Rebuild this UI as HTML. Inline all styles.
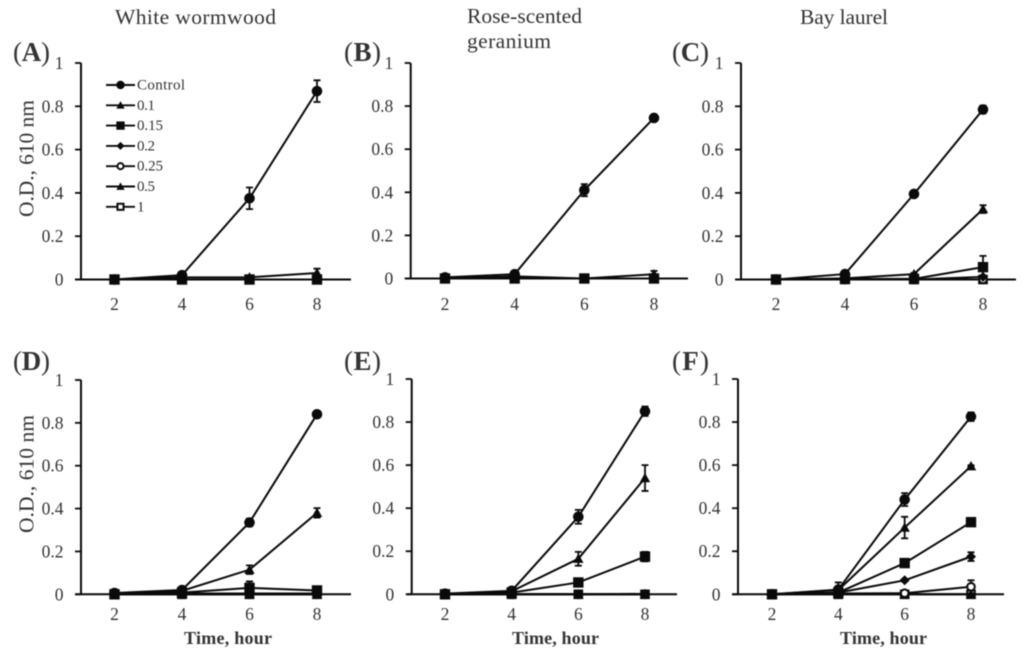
<!DOCTYPE html>
<html lang="en">
<head>
<meta charset="utf-8">
<title>Bacterial growth curves</title>
<style>
html,body{margin:0;padding:0;background:#fff;width:1024px;height:653px;overflow:hidden}
svg{display:block;filter:blur(0.4px)}
text{font-family:"Liberation Serif",serif;fill:#333}
</style>
</head>
<body>
<svg id="chart" xmlns="http://www.w3.org/2000/svg" width="1024" height="653" viewBox="0 0 1024 653">
  <text x="115" y="24" font-size="21.5" textLength="161">White wormwood</text>
  <text x="467" y="23" font-size="21.5" textLength="115">Rose-scented</text>
  <text x="467" y="48" font-size="21.5" textLength="84">geranium</text>
  <text x="800" y="24" font-size="21.5" textLength="88">Bay laurel</text>
  <text transform="translate(33.5,217) rotate(-90)" font-size="21.5" textLength="117">O.D., 610 nm</text>
  <text transform="translate(33.5,533) rotate(-90)" font-size="21.5" textLength="118">O.D., 610 nm</text>
  <text x="184" y="644" font-size="18" font-weight="bold" textLength="88">Time, hour</text>
  <text x="512" y="644" font-size="18" font-weight="bold" textLength="87">Time, hour</text>
  <text x="840" y="644" font-size="18" font-weight="bold" textLength="87">Time, hour</text>
</svg>
<script>
const categories = [2, 4, 6, 8];
const yTickValues = [0, 0.2, 0.4, 0.6, 0.8, 1];
const yTickLabels = ['0', '0.2', '0.4', '0.6', '0.8', '1'];
const seriesNames = ['Control', '0.1', '0.15', '0.2', '0.25', '0.5', '1'];
const seriesMarkers = ['circle', 'triangle', 'square', 'diamond', 'open-circle', 'triangle', 'open-square'];

const aControl = [0, 0.02, 0.375, 0.87];
const aDose01 = [0, 0.01, 0.01, 0.03];
const aDose015 = [0, 0, 0, 0];
const aDose02 = [0, 0, 0, 0];
const aDose025 = [0, 0, 0, 0];
const aDose05 = [0, 0, 0, 0];
const aDose1 = [0, 0, 0, 0];
const aControlErr = [0, 0.005, 0.05, 0.05];
const aDose01Err = [0, 0, 0.005, 0.02];

const bControl = [0.005, 0.02, 0.41, 0.745];
const bDose01 = [0, 0.01, 0, 0.02];
const bDose015 = [0, 0, 0, 0];
const bDose02 = [0, 0, 0, 0];
const bDose025 = [0, 0, 0, 0];
const bDose05 = [0, 0, 0, 0];
const bDose1 = [0, 0, 0, 0];
const bControlErr = [0, 0.005, 0.028, 0.005];
const bDose01Err = [0, 0, 0, 0.015];

const cControl = [0, 0.025, 0.395, 0.785];
const cDose01 = [0, 0.005, 0.025, 0.325];
const cDose015 = [0, 0.003, 0.003, 0.057];
const cDose02 = [0, 0, 0, 0.012];
const cDose025 = [0, 0, 0, 0];
const cDose05 = [0, 0, 0, 0];
const cDose1 = [0, 0, 0, 0];
const cControlErr = [0, 0.004, 0.008, 0.018];
const cDose01Err = [0, 0, 0.005, 0.018];
const cDose015Err = [0, 0, 0, 0.052];

const dControl = [0.006, 0.02, 0.335, 0.84];
const dDose01 = [0.004, 0.016, 0.115, 0.38];
const dDose015 = [0, 0.008, 0.03, 0.018];
const dDose02 = [0, 0.004, 0.004, 0.004];
const dDose025 = [0, 0, 0, 0];
const dDose05 = [0, 0, 0, 0];
const dDose1 = [0, 0, 0, 0];
const dControlErr = [0, 0.005, 0.018, 0.008];
const dDose01Err = [0, 0, 0.02, 0.022];
const dDose015Err = [0, 0, 0.03, 0.004];

const eControl = [0.003, 0.016, 0.36, 0.85];
const eDose01 = [0, 0.014, 0.165, 0.54];
const eDose015 = [0, 0.008, 0.055, 0.175];
const eDose02 = [0, 0, 0, 0.002];
const eDose025 = [0, 0, 0, 0];
const eDose05 = [0, 0, 0, 0];
const eDose1 = [0, 0, 0, 0];
const eControlErr = [0, 0.004, 0.032, 0.022];
const eDose01Err = [0, 0, 0.032, 0.06];
const eDose015Err = [0, 0, 0.004, 0.022];

const fControl = [0, 0.022, 0.44, 0.825];
const fDose01 = [0, 0.02, 0.31, 0.595];
const fDose015 = [0, 0.008, 0.145, 0.335];
const fDose02 = [0, 0.008, 0.065, 0.175];
const fDose025 = [0, 0.004, 0.005, 0.035];
const fDose05 = [0, 0, 0, 0];
const fDose1 = [0, 0, 0, 0];
const fControlErr = [0, 0.01, 0.03, 0.02];
const fDose01Err = [0, 0.035, 0.05, 0.004];
const fDose02Err = [0, 0, 0.005, 0.02];
const fDose025Err = [0, 0, 0.003, 0.03];

const none = [0, 0, 0, 0];

const panels = [
  {id:'a', tag:'A', lx:13, ly:61, ax:81, top:63, bot:279.5, x2:114.5, x8:317, l:75, r:351, tickY:310,
   values:[aControl,aDose01,aDose015,aDose02,aDose025,aDose05,aDose1], errs:[aControlErr,aDose01Err,none,none,none,none,none]},
  {id:'b', tag:'B', lx:344, ly:61, ax:410.7, top:63, bot:278.5, x2:445, x8:654, l:405, r:688, tickY:310,
   values:[bControl,bDose01,bDose015,bDose02,bDose025,bDose05,bDose1], errs:[bControlErr,bDose01Err,none,none,none,none,none]},
  {id:'c', tag:'C', lx:672, ly:61, ax:741, top:63, bot:279.5, x2:776, x8:983, l:736, r:1016, tickY:310,
   values:[cControl,cDose01,cDose015,cDose02,cDose025,cDose05,cDose1], errs:[cControlErr,cDose01Err,cDose015Err,none,none,none,none]},
  {id:'d', tag:'D', lx:13, ly:370, ax:81, top:380, bot:594.3, x2:114.5, x8:317, l:75, r:351, tickY:620,
   values:[dControl,dDose01,dDose015,dDose02,dDose025,dDose05,dDose1], errs:[dControlErr,dDose01Err,dDose015Err,none,none,none,none]},
  {id:'e', tag:'E', lx:344, ly:370, ax:411.7, top:379, bot:594.3, x2:445, x8:645, l:407, r:677, tickY:620,
   values:[eControl,eDose01,eDose015,eDose02,eDose025,eDose05,eDose1], errs:[eControlErr,eDose01Err,eDose015Err,none,none,none,none]},
  {id:'f', tag:'F', lx:672, ly:370, ax:738, top:379, bot:594.3, x2:772, x8:971, l:732, r:1004, tickY:620,
   values:[fControl,fDose01,fDose015,fDose02,fDose025,fDose05,fDose1], errs:[fControlErr,fDose01Err,none,fDose02Err,fDose025Err,none,none]}
];

const NS = 'http://www.w3.org/2000/svg';
const svg = document.getElementById('chart');
const INK = '#0a0a0a';

function make(parent, tag, props) {
  const el = document.createElementNS(NS, tag);
  for (const k in props) el.setAttribute(k, props[k]);
  parent.appendChild(el);
  return el;
}
function xScale(p, cat) {
  return p.x2 + (cat - categories[0]) / (categories[3] - categories[0]) * (p.x8 - p.x2);
}
function yScale(p, val) {
  return p.bot - val * (p.bot - p.top);
}
function drawMarker(parent, kind, x, y, k) {
  let el;
  if (kind === 'circle') {
    el = make(parent, 'circle', {cx:x, cy:y, r:5.3*k, fill:INK});
  } else if (kind === 'open-circle') {
    el = make(parent, 'circle', {cx:x, cy:y, r:3.8*k, fill:'#fff', stroke:INK, 'stroke-width':2});
  } else if (kind === 'square') {
    el = make(parent, 'rect', {x:x-5.2*k, y:y-5.2*k, width:10.4*k, height:10.4*k, fill:INK});
  } else if (kind === 'open-square') {
    el = make(parent, 'rect', {x:x-3.8*k, y:y-3.8*k, width:7.6*k, height:7.6*k, fill:'#fff', stroke:INK, 'stroke-width':2});
  } else if (kind === 'triangle') {
    const s = 5.2 * k;
    el = make(parent, 'polygon', {points:(x-s)+','+(y+s*0.8)+' '+(x+s)+','+(y+s*0.8)+' '+x+','+(y-s), fill:INK});
  } else {
    const s = 5 * k;
    el = make(parent, 'polygon', {points:(x-s)+','+y+' '+x+','+(y-s)+' '+(x+s)+','+y+' '+x+','+(y+s), fill:INK});
  }
  
  
}

panels.forEach(function (p) {
  const g = make(svg, 'g', {});
  
  

  const label = make(g, 'text', {x:p.lx, y:p.ly, 'font-size':27, textLength:37});
  
  
  const open = document.createElementNS(NS, 'tspan');
  open.textContent = '(';
  label.appendChild(open);
  const letter = document.createElementNS(NS, 'tspan');
  letter.setAttribute('font-weight', 'bold');
  letter.textContent = p.tag;
  label.appendChild(letter);
  const close = document.createElementNS(NS, 'tspan');
  close.textContent = ')';
  label.appendChild(close);

  const yAxis = make(g, 'line', {x1:p.ax, x2:p.ax, y1:p.top, y2:p.bot, stroke:INK, 'stroke-width':2});
  
  
  const xAxis = make(g, 'line', {x1:p.l, x2:p.r, y1:p.bot, y2:p.bot, stroke:INK, 'stroke-width':2});
  
  

  yTickValues.forEach(function (v, i) {
    const y = yScale(p, v);
    const tick = make(g, 'line', {x1:p.ax-6, x2:p.ax, y1:y, y2:y, stroke:INK, 'stroke-width':1.8});
    
    
    const t = make(g, 'text', {x:p.ax-17.5, y:y+6, 'font-size':17.5, 'text-anchor':'end'});
    t.textContent = yTickLabels[i];
    
    
  });
  categories.forEach(function (c) {
    const t = make(g, 'text', {x:xScale(p, c), y:p.tickY, 'font-size':17.5, 'text-anchor':'middle'});
    t.textContent = String(c);
    
    
  });

  for (let s = p.values.length - 1; s >= 0; s--) {
    const vals = p.values[s];
    const errs = p.errs[s];
    const sg = make(g, 'g', {});
    
    
    const pts = vals.map(function (v, i) { return xScale(p, categories[i]) + ',' + yScale(p, v); }).join(' ');
    const line = make(sg, 'polyline', {points:pts, fill:'none', stroke:INK, 'stroke-width':2});
    
    
    vals.forEach(function (v, i) {
      const e = errs[i];
      const x = xScale(p, categories[i]);
      if (e > 0) {
        const yHi = yScale(p, v + e);
        const yLo = yScale(p, Math.max(0, v - e));
        const bar = make(sg, 'path', {d:'M'+x+' '+yHi+'V'+yLo+'M'+(x-3.5)+' '+yHi+'H'+(x+3.5)+'M'+(x-3.5)+' '+yLo+'H'+(x+3.5), fill:'none', stroke:INK, 'stroke-width':1.8});
        
        
      }
      drawMarker(sg, seriesMarkers[s], x, yScale(p, v), 1);
    });
  }
});

const legend = make(svg, 'g', {});


seriesNames.forEach(function (name, i) {
  const y = 85 + i * 20.3;
  const row = make(legend, 'g', {});
  
  
  const ln = make(row, 'line', {x1:106, x2:135, y1:y, y2:y, stroke:INK, 'stroke-width':1.9});
  
  
  drawMarker(row, seriesMarkers[i], 120.5, y, 0.8);
  const t = make(row, 'text', {x:137, y:y+4.5, 'font-size':15, textLength:name === 'Control' ? 48 : (name.length === 4 ? 26 : (name.length === 3 ? 18 : 7))});
  t.textContent = name;
  
  
});
</script>
</body>
</html>
